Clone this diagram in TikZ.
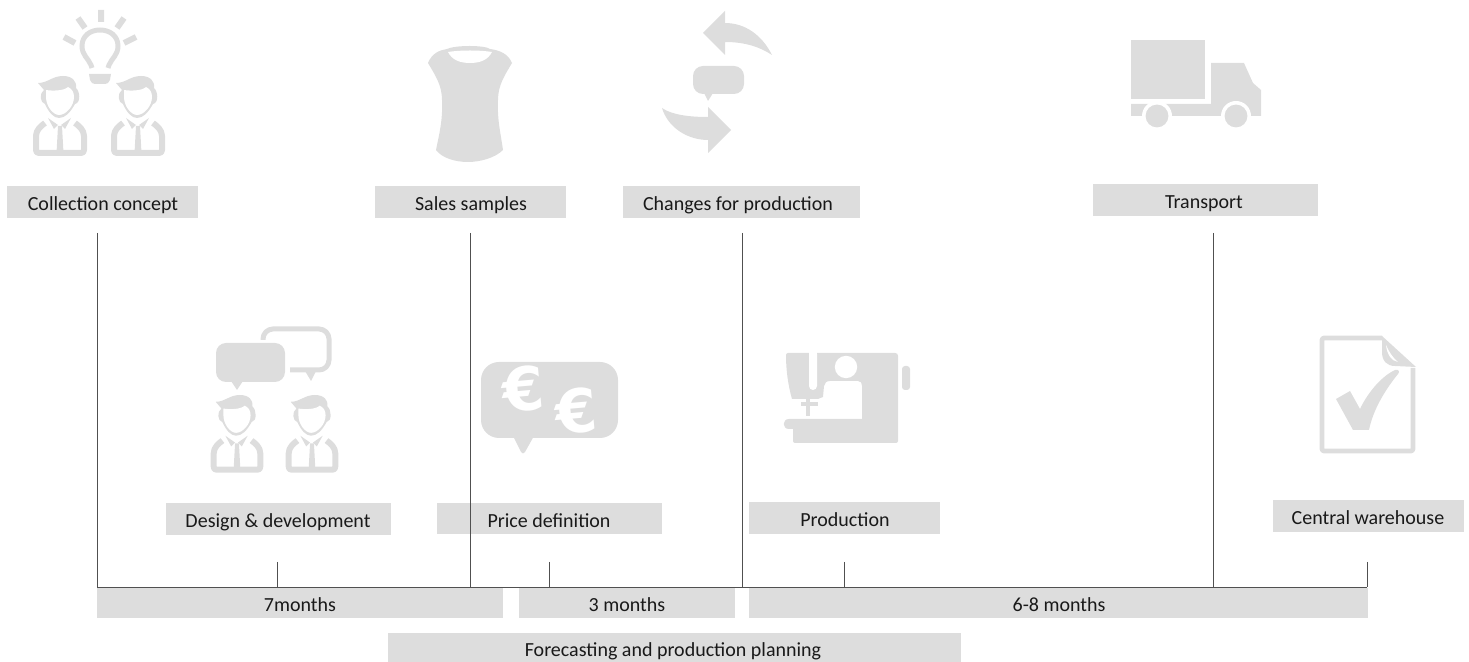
\documentclass[tikz,border=0pt]{standalone}
\usepackage{fontspec}
\setmainfont{Carlito}
\newfontfamily\eurofont{DejaVu Sans}
\definecolor{ic}{HTML}{DDDDDD}
\definecolor{bar}{HTML}{DDDDDD}
\definecolor{ln}{HTML}{505050}
\tikzset{
 vline/.style={draw=ln,line width=0.45pt},
 ico/.style={fill=ic,draw=none},
 hole/.style={fill=white,draw=none},
 labtext/.style={font=\fontsize{10pt}{12pt}\selectfont,inner sep=0pt,anchor=base,text=black!90},
 eurotext/.style={text=white,inner sep=0pt,rotate=5,font=\fontsize{30pt}{30pt}\selectfont\eurofont\bfseries},
}
% name, x0, y0, x1, y1, text centre x, text
\newcommand{\labbox}[7]{\path[fill=bar] (#2,#3) rectangle (#4,#5);
 \node[labtext] (#1) at (#6,{(#3+#5)/2+9}) {#7};}
% person centred at x=0, hair top y=0
\newcommand{\person}[3]{\begin{scope}[shift={(#1,#2)},scale=#3]
 \fill[ico] (-22,7) .. controls (-12,7) and (-8,0) .. (3,0) .. controls (12,0) and (17,5) .. (16,12)
   .. controls (20,15) and (21,27) .. (15,28) .. controls (10,37) and (5,42) .. (-1,42) .. controls (-6,42) and (-11,37) .. (-15,28)
   .. controls (-20,27) and (-21,17) .. (-16,14) -- cycle;
 \fill[hole] (-14,14) .. controls (-8,15) and (4,15) .. (8,11) .. controls (12,13) and (14,16) .. (14,21)
   .. controls (14,30) and (6,39) .. (-1,39) .. controls (-7,39) and (-14,30) .. (-14,21) -- cycle;
 \draw[ic,line width=3pt,line join=round] (-15,47) .. controls (-19,50) and (-24,54) .. (-24,60) -- (-24,74) .. controls (-24,76) and (-23,77) .. (-21,77) -- (21,77) .. controls (23,77) and (24,76) .. (24,74) -- (24,60) .. controls (24,54) and (19,50) .. (15,47);
 \fill[ico] (-12,42) -- (-2,49) -- (-6,53) -- cycle;
 \fill[ico] (11,42) -- (1,49) -- (5,53) -- cycle;
 \fill[ico] (-2,50) -- (2,50) -- (3.5,77) -- (-3.5,77) -- cycle;
\end{scope}}
\begin{document}
\begin{tikzpicture}[x=0.5pt,y=-0.5pt]
\useasboundingbox (0,0) rectangle (1469,662);
% Bars
\labbox{a}{7}{186}{198}{218}{103}{Collection concept}
\labbox{b}{375}{186}{566}{218}{471}{Sales samples}
\labbox{c}{623}{186}{860}{218}{738}{Changes for production}
\labbox{d}{1093}{184}{1318}{216}{1204}{Transport}
\labbox{e}{166}{503}{391}{535}{278}{Design \& development}
\labbox{f}{437}{503}{662}{534}{549}{Price definition}
\labbox{g}{749}{502}{940}{534}{845}{Production}
\labbox{h}{1273}{500}{1464}{532}{1368}{Central warehouse}
\labbox{m1}{97}{588}{503}{618}{300}{7months}
\labbox{m2}{519}{588}{735}{618}{627}{3 months}
\labbox{m3}{749}{588}{1368}{618}{1059}{6-8 months}
\labbox{fc}{388}{633}{961}{662}{673}{Forecasting and production planning}
% Lines
\coordinate (t1) at (97,233);\coordinate (b1) at (97,587);
\coordinate (t2) at (470,233);\coordinate (b2) at (470,587);
\coordinate (t3) at (742,233);\coordinate (b3) at (742,587);
\coordinate (t4) at (1213,233);\coordinate (b4) at (1213,587);
\coordinate (s1) at (277,562);\coordinate (e1) at (277,587);
\coordinate (s2) at (549,562);\coordinate (e2) at (549,587);
\coordinate (s3) at (844,562);\coordinate (e3) at (844,587);
\coordinate (s4) at (1367,562);\coordinate (e4) at (1367,587);
\draw[vline] (t1)--(b1); \draw[vline] (t2)--(b2); \draw[vline] (t3)--(b3); \draw[vline] (t4)--(b4);
\draw[vline] (s1)--(e1); \draw[vline] (s2)--(e2); \draw[vline] (s3)--(e3); \draw[vline] (s4)--(e4);
\draw[vline] (b1)--(e4);
% Collection icon
\person{60}{76}{1}\person{138}{76}{1}
\draw[ic,line width=2.5pt] (92,68) -- (91,65) .. controls (88,58) and (82,55) .. (82,46) .. controls (82,36) and (90,30) .. (100,30) .. controls (110,30) and (118,36) .. (118,46) .. controls (118,55) and (112,58) .. (109,65) -- (108,68);
\fill[ico] (89,74) -- (111,74) -- (110,80) .. controls (109,83) and (107,84) .. (105,84) -- (95,84) .. controls (93,84) and (91,83) .. (90,80) -- cycle;
\draw[ic,line width=3pt] (101,10)--(101,22) (78,18)--(85,28) (124,18)--(117,28) (64,37)--(75,43) (136,37)--(124,43);
% Shirt
\fill[ico] (447,49) .. controls (455,45) and (485,45) .. (490,49) .. controls (498,50) and (508,53) .. (512,63)
 .. controls (505,75) and (498,85) .. (498,100) .. controls (497,120) and (501,135) .. (503,150)
 .. controls (495,158) and (480,162) .. (468,162) .. controls (455,162) and (442,158) .. (436,150)
 .. controls (439,135) and (443,120) .. (442,100) .. controls (442,85) and (435,75) .. (428,63) .. controls (432,53) and (440,50) .. (447,49) -- cycle;
\fill[hole] (448,52) .. controls (460,50) and (480,50) .. (492,52) .. controls (488,60) and (480,63) .. (470,63) .. controls (460,63) and (452,60) .. (448,52) -- cycle;
% Change arrows
\fill[ico] (703,33) -- (725,11) -- (725,23) .. controls (745,23) and (762,35) .. (772,55) .. controls (760,47) and (745,42) .. (725,42) -- (725,55) -- cycle;
\fill[ico] (731,130) -- (708,107) -- (708,117) .. controls (690,117) and (672,115) .. (662,108) .. controls (668,128) and (688,140) .. (708,140) -- (708,153) -- cycle;
\fill[ico,rounded corners=5pt] (693,66) rectangle (744,94);
\fill[ico] (704,93) -- (708,101) -- (713,93) -- cycle;
% Truck
\fill[ico] (1131,40) rectangle (1205,99);
\fill[ico] (1131,104) -- (1211,104) -- (1211,63) -- (1244,63) -- (1253,83) -- (1261,90) -- (1261,116) -- (1131,116) -- cycle;
\fill[hole] (1157,116) circle[radius=7.5pt]; \fill[hole] (1236,116) circle[radius=7.5pt];
\fill[ico] (1157,116) circle[radius=5.7pt]; \fill[ico] (1236,116) circle[radius=5.7pt];
% Design icon
\fill[ico,rounded corners=5pt] (216,343) rectangle (285,382);
\fill[ico] (231,381) -- (237,390) -- (243,381) -- cycle;
\draw[ic,line width=2.5pt,rounded corners=5pt] (263,340) -- (263,329) -- (329,329) -- (329,370) -- (290,370);
\fill[ico] (305,371) -- (311,381) -- (316,371) -- cycle;
\person{237}{395}{0.97}\person{312}{395}{0.97}
% Euro bubble
\fill[ico,rounded corners=9pt] (481,362) rectangle (618,438);
\fill[ico] (513,436) -- (521,452) .. controls (522,454) and (524,454) .. (525,452) -- (534,436) -- cycle;
\node[eurotext] (eu1) at (523,389) {€};
\node[eurotext] (eu2) at (576,411) {€};
% Sewing machine
\fill[ico] (788,353) -- (895,353) .. controls (897,353) and (898,354) .. (898,356) -- (898,441) .. controls (898,442) and (897,443) .. (896,443) -- (795,443) .. controls (794,443) and (793,442) .. (793,441) -- (793,429) -- (789,429) .. controls (782,429) and (782,419) .. (789,419) -- (862,419) -- (862,386) .. controls (862,383) and (861,381) .. (858,381) -- (830,381) .. controls (826,381) and (825,383) .. (824,386) -- (823,397) -- (818,399) -- (792,399) .. controls (788,385) and (786,370) .. (786,355) .. controls (786,354) and (787,353) .. (788,353) -- cycle;
\fill[ico] (801,402) rectangle (818,406);
\fill[ico] (806,399) rectangle (810,416);
\fill[hole,rounded corners=2pt] (809,350) rectangle (817,390);
\fill[hole] (809,350) rectangle (817,356);
\fill[hole] (846,367) circle[radius=5.6pt];
\fill[ico,rounded corners=1.5pt] (902,366) rectangle (910,390);
% Doc
\draw[ic,line width=2.4pt,line join=round] (1382,338) -- (1324,338) .. controls (1323,338) and (1322,339) .. (1322,340) -- (1322,449) .. controls (1322,450) and (1323,451) .. (1324,451) -- (1411,451) .. controls (1412,451) and (1413,450) .. (1413,449) -- (1413,368);
\fill[ico] (1382,336) -- (1416,367) -- (1395,366) .. controls (1387,366) and (1382,361) .. (1382,352) -- cycle;
\fill[hole] (1386,345) .. controls (1387,354) and (1391,361) .. (1398,362) .. controls (1393,358) and (1389,352) .. (1386,345) -- cycle;
\fill[ico] (1336,399) -- (1350,391) -- (1360,409) .. controls (1368,392) and (1382,376) .. (1395,370) .. controls (1399,369) and (1400,372) .. (1398,374) .. controls (1385,390) and (1373,410) .. (1369,430) -- (1353,430) -- cycle;
\end{tikzpicture}
\end{document}
